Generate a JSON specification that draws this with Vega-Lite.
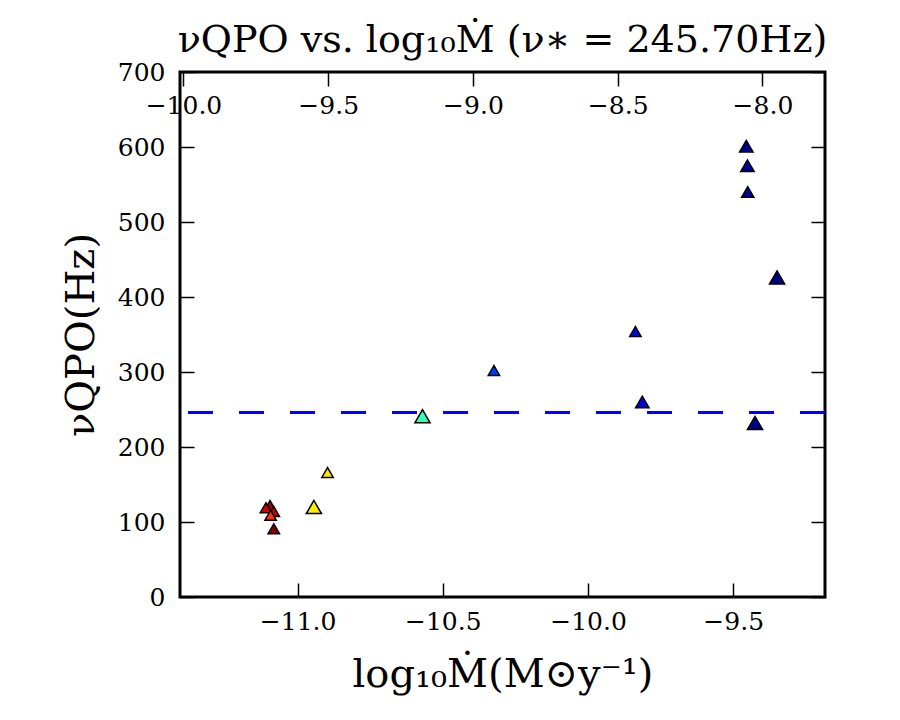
{
  "$schema": "https://vega.github.io/schema/vega-lite/v6.json",
  "width": 645,
  "height": 525,
  "autosize": "none",
  "padding": {"left": 180, "top": 72, "right": 75, "bottom": 123},
  "background": "white",
  "title": {"text": "νQPO vs. log₁₀Ṁ (ν∗ = 245.70Hz)", "font": "DejaVu Serif", "fontSize": 38, "fontWeight": "normal", "color": "#000", "anchor": "middle", "frame": "group", "offset": 0},
  "config": {
    "view": {"stroke": "#000", "strokeWidth": 3},
    "axis": {"grid": false, "domain": false, "labelFont": "DejaVu Serif", "labelFontSize": 25, "labelColor": "#000", "tickColor": "#000", "tickWidth": 1.5, "tickSize": -14, "titleFont": "DejaVu Serif", "titleFontWeight": "normal", "titleColor": "#000", "labelOverlap": false, "labelFlush": false, "labelBound": false}
  },
  "datasets": {
    "points": [
      {"lm": -11.095, "nu": 122, "c": 0.97, "w": 1},
      {"lm": -11.109, "nu": 119, "c": 0.92, "w": 1},
      {"lm": -11.082, "nu": 114, "c": 0.93, "w": 1},
      {"lm": -11.093, "nu": 109, "c": 0.85, "w": 1},
      {"lm": -11.082, "nu": 91, "c": 0.99, "w": 1},
      {"lm": -10.944, "nu": 120, "c": 0.64, "w": 2},
      {"lm": -10.897, "nu": 166, "c": 0.65, "w": 1},
      {"lm": -10.570, "nu": 241, "c": 0.45, "w": 2},
      {"lm": -10.324, "nu": 302, "c": 0.16, "w": 1},
      {"lm": -9.837, "nu": 354, "c": 0.10, "w": 1},
      {"lm": -9.813, "nu": 260, "c": 0.09, "w": 1.5},
      {"lm": -9.425, "nu": 232, "c": 0.01, "w": 2},
      {"lm": -9.349, "nu": 426, "c": 0.005, "w": 2},
      {"lm": -9.455, "nu": 601, "c": 0.025, "w": 1.5},
      {"lm": -9.451, "nu": 575, "c": 0.025, "w": 1.5},
      {"lm": -9.450, "nu": 540, "c": 0.025, "w": 1.2}
    ]
  },
  "data": {"name": "points"},
  "layer": [
    {
      "layer": [
        {
          "mark": {"type": "rule", "stroke": "#0000ff", "strokeWidth": 2, "strokeDash": [25, 26]},
          "encoding": {"y": {"datum": 245.7, "type": "quantitative"}}
        },
        {
          "mark": {"type": "point", "shape": "triangle-up", "filled": true, "stroke": "#000", "strokeWidth": 1.5, "opacity": 1},
          "encoding": {
            "x": {"field": "lm", "type": "quantitative", "scale": {"domain": [-11.405, -9.184], "nice": false, "zero": false},
                  "axis": {"orient": "bottom", "values": [-11, -10.5, -10, -9.5], "format": ".1f", "labelPadding": 26, "title": "log₁₀Ṁ(M⊙y⁻¹)", "titleFontSize": 40, "titlePadding": 20}},
            "y": {"field": "nu", "type": "quantitative", "scale": {"domain": [0, 700], "nice": false, "zero": false},
                  "axis": {"orient": "left", "values": [0, 100, 200, 300, 400, 500, 600, 700], "labelPadding": 29, "title": "νQPO(Hz)", "titleFontSize": 40, "titlePadding": 16}},
            "color": {"field": "c", "type": "quantitative", "scale": {"domain": [0, 0.125, 0.25, 0.375, 0.5, 0.625, 0.75, 0.875, 1], "range": ["#00007f", "#0000ff", "#007fff", "#00ffff", "#7fff7f", "#ffff00", "#ff7f00", "#ff0000", "#7f0000"]}, "legend": null},
            "size": {"field": "w", "type": "quantitative", "scale": {"domain": [1, 2], "range": [130, 230]}, "legend": null}
          }
        }
      ]
    },
    {
      "mark": {"type": "point", "opacity": 0},
      "encoding": {
        "x": {"field": "lm", "type": "quantitative", "scale": {"domain": [-10.012, -7.784], "nice": false, "zero": false},
              "axis": {"orient": "top", "values": [-10, -9.5, -9, -8.5, -8], "format": ".1f", "labelPadding": -32, "title": null}},
        "y": {"field": "nu", "type": "quantitative", "scale": {"domain": [0, 700], "nice": false, "zero": false},
              "axis": {"orient": "right", "values": [0, 100, 200, 300, 400, 500, 600, 700], "labels": false, "title": null}}
      }
    }
  ],
  "resolve": {"scale": {"x": "independent", "y": "independent"}}
}
